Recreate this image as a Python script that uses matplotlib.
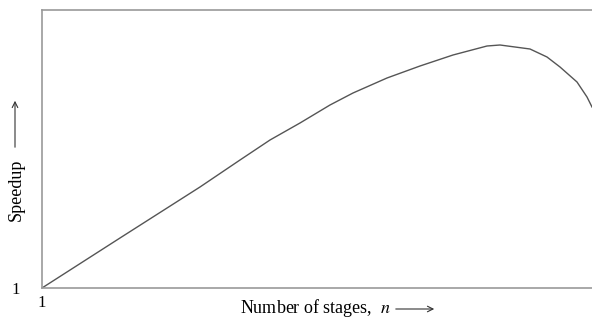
import matplotlib.pyplot as plt

plt.rcParams['font.family'] = ['Liberation Serif', 'DejaVu Serif']
plt.rcParams['mathtext.fontset'] = 'stix'

# speedup vs number of stages
stages = [1, 8.8, 16.8, 20.8, 23.8, 26.8, 29.8, 32.1, 35.5, 38.8, 42.1,
          45.5, 46.8, 49.8, 51.5, 52.8, 54.5, 55.5, 56]
speedup = [1, 6.0, 11.1, 13.8, 15.8, 17.5, 19.3, 20.5, 22.0, 23.2, 24.3,
           25.2, 25.3, 24.9, 24.1, 23.1, 21.6, 20.1, 19.1]

W, H = 592, 320
fig = plt.figure(figsize=(W / 100, H / 100), dpi=100)
ax = fig.add_axes([42 / W, 32 / H, 550 / W, 278 / H])

ax.plot(stages, speedup, color='#555555', lw=1.0)

ax.set_xlim(1, 56)
ax.set_ylim(1, 28.8)
ax.set_xticks([1])
ax.set_yticks([1])
ax.set_xticklabels(['1'])
ax.set_yticklabels(['1'])
ax.tick_params(length=0, labelsize=12, pad=5)
ax.tick_params(axis='y', pad=16)

for side in ['left', 'bottom', 'top']:
    ax.spines[side].set_color('#999999')
    ax.spines[side].set_linewidth(1.2)
ax.spines['right'].set_visible(False)

# axis labels with long arrows
arrow = dict(arrowstyle='->', color='#333333', lw=0.8)

fig.text(240 / W, 1 - 313 / H, r'Number of stages,  $n$',
         ha='left', va='baseline', fontsize=13)
ax.annotate('', xy=(437 / W, 1 - 309 / H), xytext=(393 / W, 1 - 309 / H),
            xycoords='figure fraction', textcoords='figure fraction',
            arrowprops=arrow, annotation_clip=False)

fig.text(16 / W, 1 - 190 / H, 'Speedup',
         ha='center', va='center', fontsize=13, rotation=90)
ax.annotate('', xy=(15 / W, 1 - 98 / H), xytext=(15 / W, 1 - 150 / H),
            xycoords='figure fraction', textcoords='figure fraction',
            arrowprops=arrow, annotation_clip=False)

fig.savefig('out.png', dpi=100)
